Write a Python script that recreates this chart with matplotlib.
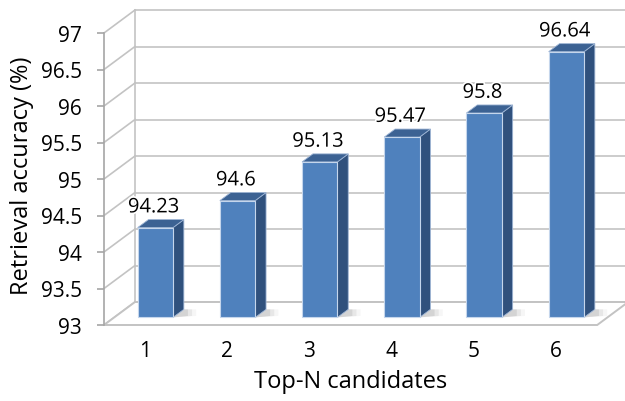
import numpy as np
import matplotlib
matplotlib.use("Agg")
import matplotlib.pyplot as plt
from matplotlib.patches import Polygon
import matplotlib.patheffects as pe

plt.rcParams['font.family'] = ['Open Sans', 'DejaVu Sans']

candidates = [1, 2, 3, 4, 5, 6]
accuracy = [94.23, 94.6, 95.13, 95.47, 95.8, 96.64]
yticks = [93, 93.5, 94, 94.5, 95, 95.5, 96, 96.5, 97]
ytick_labels = ['93', '93.5', '94', '94.5', '95', '95.5', '96', '96.5', '97']

# oblique projection of the depth axis, in data units
DX, DY = 0.377, 0.315
f0, depth = 0.33, 0.35     # bar front offset and bar depth (fraction of full depth)
w = 0.43                   # bar width
ymin, ymax = yticks[0], yticks[-1]
xl, xr = 0.5, len(candidates) + 0.5

front_c = '#4f81bd'
side_c = '#30517d'
top_c = '#3c6293'
grid_c = '#c3c3c3'

fig = plt.figure(figsize=(6.25, 4.02), dpi=100)
ax = fig.add_axes([104/625, 76/402, 1 - 104/625, 326/402])
ax.set_xlim(xl, xl + 521/82.2)
ax.set_ylim(ymin, ymin + 326/73)

# walls: left wall diagonals + back wall gridlines
for v in yticks:
    ax.plot([xl, xl + DX], [v, v + DY], color=grid_c, lw=1.2, zorder=1, clip_on=False)
    ax.plot([xl + DX, xr + DX + 1], [v + DY, v + DY], color=grid_c, lw=1.2, zorder=1)
ax.plot([xl + DX, xl + DX], [ymin + DY, ymax + DY], color=grid_c, lw=1.2, zorder=1)

# floor
floor = Polygon([(xl, ymin), (xr, ymin), (xr + DX, ymin + DY), (xl + DX, ymin + DY)],
                closed=True, facecolor='white', edgecolor=grid_c, lw=1.4, zorder=2,
                clip_on=False)
ax.add_patch(floor)

# 3D columns
for c, v in zip(candidates, accuracy):
    x0 = c - w / 2 + f0 * DX
    x1 = x0 + w
    y0 = ymin + f0 * DY
    y1 = v + f0 * DY
    ddx, ddy = depth * DX, depth * DY
    # soft shadow on the floor
    for k, a in enumerate([0.18, 0.12, 0.07]):
        ext = 0.05 * (k + 1)
        shadow = Polygon([(x1, y0), (x1 + ddx + ext, y0 + 0.02), (x1 + ddx + ext, y0 + ddy),
                          (x1 + ddx, y0 + ddy)], closed=True, facecolor='#808080',
                         edgecolor='none', alpha=a, zorder=3)
        ax.add_patch(shadow)
    side = Polygon([(x1, y0), (x1 + ddx, y0 + ddy), (x1 + ddx, y1 + ddy), (x1, y1)],
                   closed=True, facecolor=side_c, edgecolor='#9db4d4', lw=0.6, zorder=4)
    top = Polygon([(x0, y1), (x1, y1), (x1 + ddx, y1 + ddy), (x0 + ddx, y1 + ddy)],
                  closed=True, facecolor=top_c, edgecolor='#9db4d4', lw=0.6, zorder=4)
    front = Polygon([(x0, y0), (x1, y0), (x1, y1), (x0, y1)],
                    closed=True, facecolor=front_c, edgecolor='#c5d6ec', lw=0.8, zorder=5)
    for p in (side, top, front):
        ax.add_patch(p)
    ax.text(c + f0 * DX - 0.02, y1 + ddy + 0.03, f'{v:g}', ha='center', va='bottom',
            fontsize=14.5, color='black', zorder=6,
            path_effects=[pe.withStroke(linewidth=2.5, foreground='white')])

# axes styling
for s in ('top', 'right', 'bottom'):
    ax.spines[s].set_visible(False)
ax.spines['left'].set_bounds(ymin, ymax)
ax.spines['left'].set_color('#a6a6a6')
ax.spines['left'].set_linewidth(1.2)
ax.set_yticks(yticks)
ax.set_yticklabels(ytick_labels)
ax.tick_params(axis='y', length=5, width=1.2, color='#a6a6a6', pad=11, labelsize=15)
ax.set_xticks(candidates)
ax.set_xticklabels([str(c) for c in candidates])
ax.tick_params(axis='x', length=0, pad=11, labelsize=15)
ax.set_xlabel('Top-N candidates', fontsize=17)
ax.xaxis.set_label_coords(0.474, -0.135)
ax.set_ylabel('Retrieval accuracy (%)', fontsize=17)
ax.yaxis.set_label_coords(-0.135, 0.46)

fig.savefig('out.png', dpi=100)
